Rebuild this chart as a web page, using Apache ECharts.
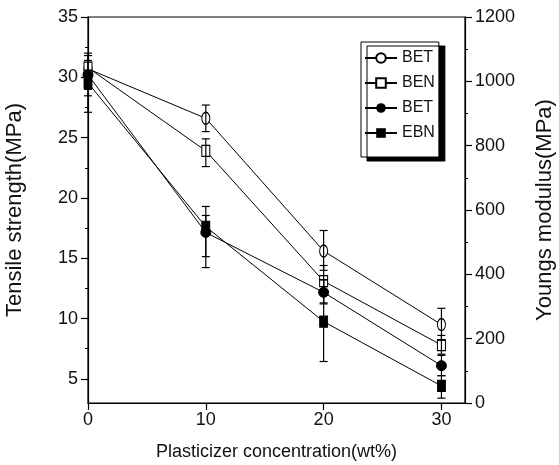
<!DOCTYPE html>
<html><head><meta charset="utf-8">
<script src="https://cdn.jsdelivr.net/npm/echarts@6/dist/echarts.min.js"></script>
<style>html,body{margin:0;padding:0;background:#fff}#c{width:559px;height:465px}</style>
</head><body><div id="c"></div>
<script>
// ---- data ----
const xValues = [0, 10, 20, 30];
const xTicks = [0, 10, 20, 30];
const leftTicks = [5, 10, 15, 20, 25, 30, 35];
const leftMinorTicks = [7.5, 12.5, 17.5, 22.5, 27.5, 32.5];

// Tensile strength (MPa), left axis, open markers
const betTensile     = [30.7, 26.6, 15.6, 9.5];
const betTensileLow  = [29.4, 25.5, 14.0, 8.2];
const betTensileHigh = [32.0, 27.7, 17.3, 10.85];
const benTensile     = [30.8, 23.9, 13.1, 7.8];
const benTensileLow  = [27.1, 22.6, 11.3, 7.05];
const benTensileHigh = [31.8, 24.9, 14.4, 8.6];

// Youngs modulus (MPa), right axis, filled markers
const betModulus     = [1020, 530, 344, 116];
const betModulusLow  = [975, 455, 308, 85];
const betModulusHigh = [1065, 583, 383, 148];
const ebnModulus     = [995, 548, 253, 53];
const ebnModulusLow  = [955, 421, 129, 15];
const ebnModulusHigh = [1035, 611, 383, 85];

const legendNames = ['BET', 'BEN', 'BET ', 'EBN'];

// ---- chart ----
const FONT = 'Liberation Sans, Arial, sans-serif';
const ellipse = 'path://M10,0A10,10,0,1,1,10,20A10,10,0,1,1,10,0Z';
const pairs = (xs, ys) => xs.map((x, i) => [x, ys[i]]);
const triples = (xs, lo, hi) => xs.map((x, i) => [x, lo[i], hi[i]]);

function errRender(params, api) {
  const x = api.value(0), lo = api.value(1), hi = api.value(2);
  const p1 = api.coord([x, lo]), p2 = api.coord([x, hi]);
  const w = 4;
  const st = { stroke: '#000', lineWidth: 1.2 };
  return { type: 'group', children: [
    { type: 'line', shape: { x1: p1[0], y1: p1[1], x2: p2[0], y2: p2[1] }, style: st },
    { type: 'line', shape: { x1: p1[0] - w, y1: p1[1], x2: p1[0] + w, y2: p1[1] }, style: st },
    { type: 'line', shape: { x1: p2[0] - w, y1: p2[1], x2: p2[0] + w, y2: p2[1] }, style: st }
  ]};
}
function errSeries(lo, hi, yIdx) {
  return { type: 'custom', yAxisIndex: yIdx, renderItem: errRender,
    data: triples(xValues, lo, hi), encode: { x: 0, y: [1, 2] }, silent: true, z: 5 };
}

const lineStyle = { color: '#000', width: 1 };
const chart = echarts.init(document.getElementById('c'));
chart.setOption({
  animation: false,
  textStyle: { fontFamily: FONT, color: '#111' },
  grid: { left: 88, right: 94, top: 17, bottom: 62, containLabel: false, outerBoundsMode: 'none',
          show: true, borderColor: '#000', borderWidth: 1.2 },
  legend: {
    orient: 'vertical', left: 361, top: 42,
    padding: [8, 4, 16, 3],
    itemWidth: 32, itemHeight: 12, itemGap: 9,
    textStyle: { fontSize: 16, color: '#111', fontFamily: FONT },
    formatter: n => n.trim(),
    backgroundColor: '#fff', borderColor: '#000', borderWidth: 1,
    shadowColor: '#000', shadowBlur: 0, shadowOffsetX: 6, shadowOffsetY: 4,
    selectedMode: false,
    data: legendNames.map(n => ({ name: n }))
  },
  xAxis: {
    type: 'value', min: 0, max: 32,
    axisLine: { lineStyle: { color: '#000', width: 1.2 } },
    axisTick: { customValues: xTicks, length: 7, lineStyle: { color: '#000', width: 1.2 } },
    axisLabel: { customValues: xTicks, fontSize: 18, color: '#111', margin: 8 },
    splitLine: { show: false },
    name: 'Plasticizer concentration(wt%)', nameLocation: 'middle', nameGap: 40,
    nameTextStyle: { fontSize: 18, color: '#111' }
  },
  yAxis: [
    {
      type: 'value', min: 3, max: 35, position: 'left',
      axisLine: { show: true, lineStyle: { color: '#000', width: 1.2 } },
      axisTick: { show: true, customValues: leftTicks, length: 7, lineStyle: { color: '#000', width: 1.2 } },
      axisLabel: { customValues: leftTicks, fontSize: 18, color: '#111', margin: 10 },
      splitLine: { show: false },
      name: 'Tensile strength(MPa)', nameLocation: 'middle', nameGap: 62,
      nameTextStyle: { fontSize: 22, color: '#111' }
    },
    {
      type: 'value', min: 0, max: 1200, interval: 200, position: 'right',
      axisLine: { show: true, lineStyle: { color: '#000', width: 1.2 } },
      axisTick: { show: true, length: 7, lineStyle: { color: '#000', width: 1.2 } },
      minorTick: { show: true, splitNumber: 2, length: 3, lineStyle: { color: '#000' } },
      axisLabel: { fontSize: 18, color: '#111', margin: 10, formatter: v => String(v) },
      splitLine: { show: false },
      name: 'Youngs modulus(MPa)', nameLocation: 'middle', nameGap: 69,
      nameTextStyle: { fontSize: 22, color: '#111' }
    },
    {
      type: 'value', min: 3, max: 35, position: 'left',
      axisLine: { show: false },
      axisTick: { show: true, customValues: leftMinorTicks, length: 3, lineStyle: { color: '#000' } },
      axisLabel: { show: false },
      splitLine: { show: false }
    }
  ],
  series: [
    { name: legendNames[0], type: 'line', yAxisIndex: 0, data: pairs(xValues, betTensile),
      symbol: ellipse, symbolSize: [8, 12], lineStyle,
      itemStyle: { color: '#fff', borderColor: '#000', borderWidth: 1.2 }, emphasis: { disabled: true }, z: 3 },
    { name: legendNames[1], type: 'line', yAxisIndex: 0, data: pairs(xValues, benTensile),
      symbol: 'rect', symbolSize: [8, 11], lineStyle,
      itemStyle: { color: '#fff', borderColor: '#000', borderWidth: 1.2 }, emphasis: { disabled: true }, z: 3 },
    { name: legendNames[2], type: 'line', yAxisIndex: 1, data: pairs(xValues, betModulus),
      symbol: 'circle', symbolSize: 10, lineStyle,
      itemStyle: { color: '#000', borderColor: '#000' }, emphasis: { disabled: true }, z: 3 },
    { name: legendNames[3], type: 'line', yAxisIndex: 1, data: pairs(xValues, ebnModulus),
      symbol: 'rect', symbolSize: [8, 11], lineStyle,
      itemStyle: { color: '#000', borderColor: '#000' }, emphasis: { disabled: true }, z: 3 },
    errSeries(betTensileLow, betTensileHigh, 0),
    errSeries(benTensileLow, benTensileHigh, 0),
    errSeries(betModulusLow, betModulusHigh, 1),
    errSeries(ebnModulusLow, ebnModulusHigh, 1)
  ]
});
</script>
</body></html>
